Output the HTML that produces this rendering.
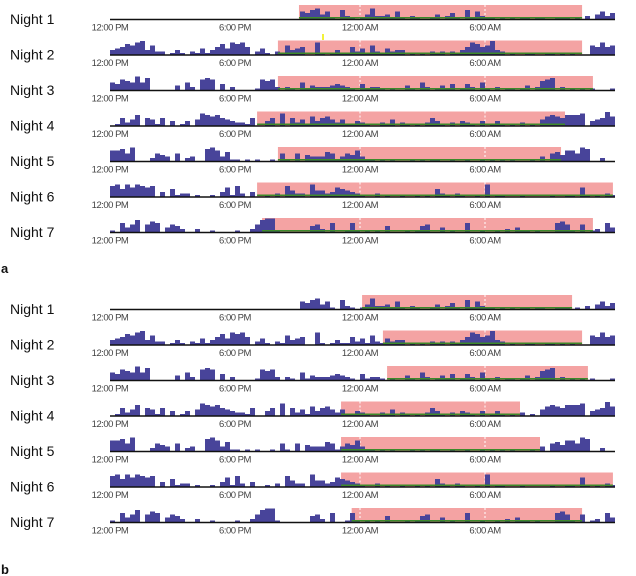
<!DOCTYPE html>
<html><head><meta charset="utf-8"><style>
body{margin:0;background:#fff;width:636px;height:576px;overflow:hidden;font-family:"Liberation Sans",sans-serif}
svg{display:block}
</style></head><body>
<svg id="chart" width="636" height="576" viewBox="0 0 636 576" xmlns="http://www.w3.org/2000/svg"></svg>
<script>
const nights = ["Night 1","Night 2","Night 3","Night 4","Night 5","Night 6","Night 7"];
const tickLabels = ["12:00 PM","6:00 PM","12:00 AM","6:00 AM"];
const tickHours = [0,6,12,18];
// activity per 14.4-min bin (0-9), '.' = no data
const activity = [
 "......................................546735106210137223151021001302410615211010101101100111010203524793",
 "34576893622013102141357487850241021634500810131152416214233010102120213587569320100110011010100065856",
 "54765958000003052078704020000176720210513222343210412210100310520131401420510201101302678020101010001",
 "01524705415030130487675432215003508052416356424113210021402101025310203210301310102010467657778034596",
 "77859000254305023008973611010100105105043336513547311010100010101100100100101010100010305647759800200",
 "78586876703051220100103617203001020742208442365432100201001001010521021001080110001000001001106101021",
 "10635805760354200200100001002589910000004520600161010104000101450030100600100102031101000675105012063"
];
const sleepStartA = [9.07,8.06,8.06,7.06,8.06,7.06,7.3];
const sleepEndA   = [22.66,22.66,23.18,21.84,21.65,24.14,23.18];
const sleepStartB = [12.1,13.1,13.3,11.09,11.09,11.09,11.6];
const sleepEndB   = [22.18,22.66,22.94,19.68,20.64,24.14,22.66];

const NS="http://www.w3.org/2000/svg";
const svg=document.getElementById('chart');
const X0=110, X1=615, PXH=125/6;
function xScale(h){return X0+h*PXH;}
function mk(tag,attrs,parent){const e=document.createElementNS(NS,tag);for(const k in attrs)e.setAttribute(k,attrs[k]);(parent||svg).appendChild(e);return e;}

function panel(baseY0,starts,ends,letter,letterY){
  const g=mk('g',{});
  
  
  for(let i=0;i<nights.length;i++){
    const by=baseY0+i*35.5;
    const row=mk('g',{},g);
    
    
    const lab=mk('text',{x:10,y:by+5,'font-size':14,fill:'#111'},row);
    lab.textContent=nights[i];
    
    
    const x1=xScale(starts[i]), x2=Math.min(X1,xScale(ends[i]));
    const band=mk('rect',{x:x1,y:by-14,width:x2-x1,height:14,fill:'#f4a3a3'},row);
    
    
    [12,18].forEach(h=>{const xx=xScale(h); if(xx>x1&&xx<x2){const d=mk('line',{x1:xx,x2:xx,y1:by-14,y2:by,stroke:'#fff','stroke-width':1,'stroke-dasharray':'2,2'},row);
      
      }});
    const s=activity[i];
    for(let b=0;b<s.length;b++){
      const c=s[b]; if(c==='.')continue;
      const v=+c; if(v===0)continue;
      const bx=X0+b*5; if(bx>=X1)break;
      const r=mk('rect',{x:bx,y:by-v*1.5,width:Math.min(5,X1-bx),height:v*1.5,fill:'#48449a'},row);
      
      
    }
    const gl=mk('rect',{x:x1,y:by-2,width:x2-x1,height:1.5,fill:'#3d8a2a'},row);
    
    
    const ax=mk('line',{x1:X0,x2:X1,y1:by+0.5,y2:by+0.5,stroke:'#111','stroke-width':1.5},row);
    
    
    for(let t=0;t<tickLabels.length;t++){
      const tl=mk('text',{x:xScale(tickHours[t]),y:by+11.5,'font-size':9.5,fill:'#444','text-anchor':'middle','letter-spacing':'-0.5'},row);
      tl.textContent=tickLabels[t];
      
      
    }
  }
  const L=mk('text',{x:1,y:letterY,'font-size':13,'font-weight':'bold',fill:'#111'},g);
  L.textContent=letter;
  
  
}
panel(19,sleepStartA,sleepEndA,'a',273);
panel(309,sleepStartB,sleepEndB,'b',574);
const y=mk('rect',{x:322,y:34,width:2,height:6,fill:'#f2f23a'});


</script>
</body></html>
